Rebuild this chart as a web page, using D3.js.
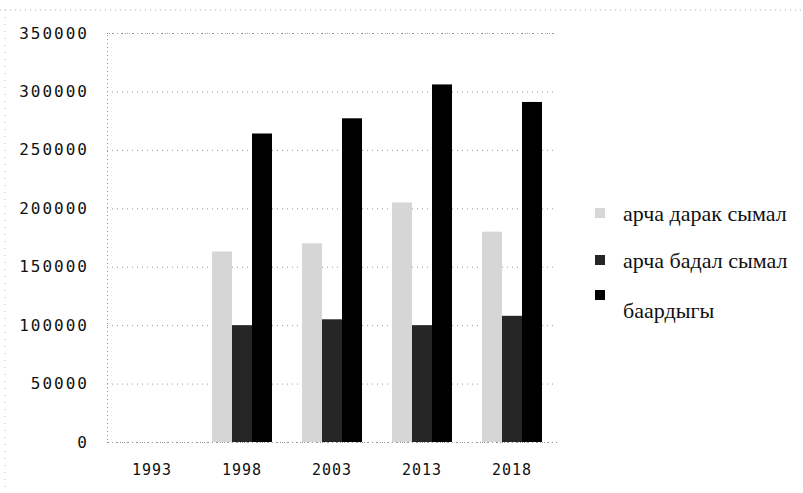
<!DOCTYPE html>
<html>
<head>
<meta charset="utf-8">
<script src="https://cdn.jsdelivr.net/npm/d3@7"></script>
<style>
  html, body { margin: 0; padding: 0; background: #fff; }
  svg { display: block; }
</style>
</head>
<body>
<svg id="chart" width="803" height="493"></svg>
<script>
const years = ["1993", "1998", "2003", "2013", "2018"];
const seriesNames = ["арча дарак сымал", "арча бадал сымал", "баардыгы"];
const treeLike = [0, 163000, 170000, 205000, 180000];
const shrubLike = [0, 100000, 105000, 100000, 108000];
const total = [0, 264000, 277000, 306000, 291000];
const yTicks = [0, 50000, 100000, 150000, 200000, 250000, 300000, 350000];

const series = [treeLike, shrubLike, total];
const colors = ["#d6d6d6", "#262626", "#000000"];

const svg = d3.select("#chart");
const plotL = 107, plotR = 557, plotT = 33, plotB = 442;

// outer frame (dotted)
svg.append("line").attr("x1", 0).attr("x2", 803).attr("y1", 10).attr("y2", 10)
  .attr("stroke", "#b0b0b0").attr("stroke-dasharray", "1,4");
svg.append("line").attr("x1", 5).attr("x2", 5).attr("y1", 10).attr("y2", 493)
  .attr("stroke", "#c0c0c0").attr("stroke-dasharray", "1,6");

const x = d3.scaleBand().domain(years).range([plotL, plotR]).paddingInner(0).paddingOuter(0);
const groupW = 60;
const xs = d3.scaleBand().domain(d3.range(series.length)).range([0, groupW]).padding(0);
const y = d3.scaleLinear().domain([0, 350000]).range([plotB, plotT]);

// grid + y axis
const yAxis = d3.axisLeft(y).tickValues(yTicks).tickSize(-(plotR - plotL)).tickPadding(18)
  .tickFormat(d => String(d));
const gy = svg.append("g").attr("transform", `translate(${plotL},0)`).call(yAxis);
gy.select(".domain").attr("stroke", "#999").attr("stroke-dasharray", "1,3");
gy.selectAll(".tick line").attr("stroke", "#999").attr("stroke-dasharray", "1,4");
gy.selectAll(".tick text")
  .attr("font-family", "'DejaVu Sans Mono', monospace")
  .attr("font-size", 16).attr("letter-spacing", 2).attr("fill", "#111");

// bars
const g = svg.append("g");
years.forEach((yr, i) => {
  series.forEach((s, k) => {
    const v = s[i];
    if (v <= 0) return;
    g.append("rect")
      .attr("x", x(yr) + (x.step() - groupW) / 2 + xs(k))
      .attr("width", xs.bandwidth())
      .attr("y", y(v))
      .attr("height", y(0) - y(v))
      .attr("fill", colors[k]);
  });
});

// x axis labels
const xAxis = d3.axisBottom(x).tickSize(0).tickPadding(22);
const gx = svg.append("g").attr("transform", `translate(0,${plotB})`).call(xAxis);
gx.select(".domain").remove();
gx.selectAll(".tick text")
  .attr("font-family", "'DejaVu Sans Mono', monospace")
  .attr("font-size", 15).attr("letter-spacing", 1).attr("fill", "#111");

// legend
const legendY = [213, 260, 295];
const textY = [213, 260, 310];
seriesNames.forEach((name, k) => {
  svg.append("rect").attr("x", 595).attr("y", legendY[k] - 5).attr("width", 10).attr("height", 10)
    .attr("fill", colors[k]);
  svg.append("text").attr("x", 623).attr("y", textY[k]).attr("dy", "0.35em")
    .attr("font-family", "'Liberation Serif', 'Times New Roman', serif")
    .attr("font-size", 22).attr("fill", "#111").text(name);
});
</script>
</body>
</html>
